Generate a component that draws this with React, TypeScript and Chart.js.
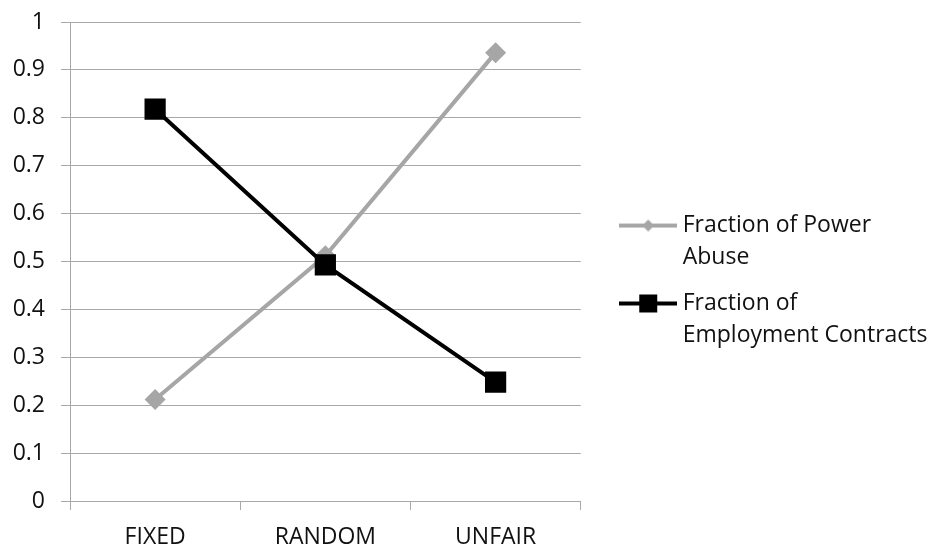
import { useEffect, useRef } from 'react';
import { Chart, registerables } from 'chart.js';

Chart.register(...registerables);

const categories = ['FIXED', 'RANDOM', 'UNFAIR'];
const powerAbuse = [0.212, 0.512, 0.936];
const employmentContracts = [0.818, 0.493, 0.248];
const seriesLabels = ['Fraction of Power Abuse', 'Fraction of Employment Contracts'];
const legendLines = [
  ['Fraction of Power', 'Abuse'],
  ['Fraction of', 'Employment Contracts'],
];

const GRAY = '#A6A6A6';
const BLACK = '#000000';
const GRID = '#A8A8A8';
const TEXT = '#111111';
const FONT = "'Open Sans', sans-serif";
const FS = 23;

function makeIcon(color: string, kind: 'diamond' | 'square'): HTMLCanvasElement {
  const c = document.createElement('canvas');
  c.width = 58;
  c.height = 24;
  const ctx = c.getContext('2d')!;
  ctx.strokeStyle = color;
  ctx.fillStyle = color;
  ctx.lineWidth = 4;
  ctx.beginPath();
  ctx.moveTo(0, 12);
  ctx.lineTo(58, 12);
  ctx.stroke();
  ctx.beginPath();
  if (kind === 'diamond') {
    ctx.moveTo(29, 6);
    ctx.lineTo(35, 12);
    ctx.lineTo(29, 18);
    ctx.lineTo(23, 12);
    ctx.closePath();
  } else {
    ctx.rect(20, 3, 18, 18);
  }
  ctx.fill();
  return c;
}

export default function App() {
  const ref = useRef<HTMLCanvasElement | null>(null);

  useEffect(() => {
    if (!ref.current) return;
    const icons = [makeIcon(GRAY, 'diamond'), makeIcon(BLACK, 'square')];
    const chart = new Chart(ref.current, {
      type: 'line',
      data: {
        labels: categories,
        datasets: [
          {
            label: seriesLabels[0],
            data: powerAbuse,
            borderColor: GRAY,
            backgroundColor: GRAY,
            borderWidth: 4,
            pointStyle: 'rectRot',
            pointRadius: 10.5,
            pointHoverRadius: 10.5,
            pointBorderWidth: 0,
            order: 1,
            tension: 0,
          },
          {
            label: seriesLabels[1],
            data: employmentContracts,
            borderColor: BLACK,
            backgroundColor: BLACK,
            borderWidth: 4,
            pointStyle: 'rect',
            pointRadius: 15,
            pointHoverRadius: 15,
            pointBorderWidth: 0,
            order: 0,
            tension: 0,
          },
        ],
      },
      options: {
        responsive: false,
        animation: false,
        layout: { padding: { top: 22, left: 0, right: -4.5, bottom: 2 } },
        plugins: {
          tooltip: { enabled: false },
          legend: {
            position: 'right',
            maxWidth: 400,
            labels: {
              usePointStyle: true,
              pointStyleWidth: 46,
              padding: 14,
              color: TEXT,
              font: { family: FONT, size: FS, lineHeight: 1.39 },
              generateLabels: (ch: any) => {
                const items = (Chart.defaults.plugins.legend.labels as any).generateLabels(ch);
                return items
                  .sort((a: any, b: any) => a.datasetIndex - b.datasetIndex)
                  .map((it: any) => ({
                    ...it,
                    text: legendLines[it.datasetIndex],
                    pointStyle: icons[it.datasetIndex],
                    fontColor: TEXT,
                  }));
              },
            },
          },
        },
        scales: {
          x: {
            offset: true,
            grid: {
              display: true,
              drawOnChartArea: false,
              drawTicks: true,
              tickLength: 9,
              color: GRID,
              offset: true,
            },
            border: { display: true, color: GRID, width: 1 },
            ticks: { color: TEXT, font: { family: FONT, size: FS }, padding: 14 },
            afterFit: (s: any) => {
              s.height = 47;
            },
          },
          y: {
            min: 0,
            max: 1,
            ticks: {
              stepSize: 0.1,
              color: TEXT,
              font: { family: FONT, size: FS },
              padding: 16,
              callback: (v: any) => String(Math.round(Number(v) * 10) / 10),
            },
            grid: { color: GRID, tickLength: 9, drawTicks: true },
            border: { display: true, color: GRID, width: 1 },
            afterFit: (s: any) => {
              s.width = 70;
              s.paddingTop = 0;
              s.paddingBottom = 0;
            },
          },
          y2: {
            position: 'right',
            display: true,
            grid: { display: false },
            border: { display: false },
            ticks: { display: false },
            afterFit: (s: any) => {
              s.width = 30.5;
              s.paddingTop = 0;
              s.paddingBottom = 0;
            },
          },
        },
      },
    });
    return () => chart.destroy();
  }, []);

  return (
    <div style={{ position: 'absolute', left: 0, top: 0, width: 933, height: 550, background: '#fff' }}>
      <canvas ref={ref} width={933} height={550} style={{ display: 'block' }} />
    </div>
  );
}
